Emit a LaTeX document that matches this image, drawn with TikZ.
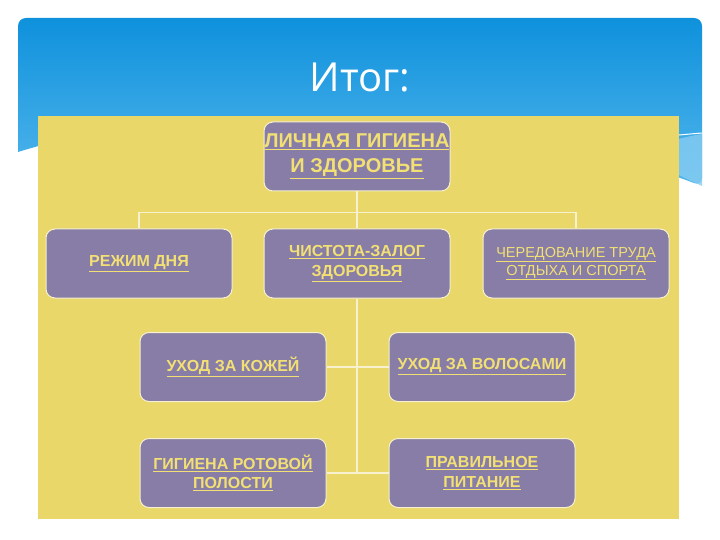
\documentclass[tikz,border=0pt]{standalone}
\usepackage{fontspec}
\setmainfont{Liberation Sans}
\newfontfamily\titlefont{Open Sans}
\usepackage{tikz}
\usepackage{xcolor}
\usetikzlibrary{shapes,arrows,positioning,calc}

\definecolor{skytop}{HTML}{0F91DC}
\definecolor{skybot}{HTML}{52B6EC}
\definecolor{sand}{HTML}{E9D76A}
\definecolor{lilac}{HTML}{877DA6}
\definecolor{lemon}{HTML}{F2E074}
\definecolor{cream}{HTML}{F7F1CF}

\tikzset{
    box/.style={draw=cream, line width=1pt, fill=lilac, rounded corners=9pt,
        minimum width=186pt, minimum height=69pt, inner sep=0pt,
        align=center, text=lemon, font=\bfseries\fontsize{16}{19.5}\selectfont},
    conn/.style={draw=cream, line width=1.6pt}
}
\newcommand{\ul}[1]{\underline{#1}}

\begin{document}
\begin{tikzpicture}[x=1pt, y=-1pt]
    \useasboundingbox (0,0) rectangle (720,540);
    \fill[white] (0,0) rectangle (720,540);

    % slide background
    \shade[top color=skytop, bottom color=skybot, rounded corners=8pt]
        (18,152) -- (18,18) -- (702,18) -- (702,186)
        [sharp corners] .. controls (500,110) and (200,95) .. (18,152) -- cycle;
    \fill[skybot!70!white, opacity=0.8] (640,150) .. controls (670,140) and (690,136) .. (702,134)
        -- (702,186) .. controls (685,178) and (665,170) .. (640,150) -- cycle;
    \draw[white, line width=1pt] (635,140) .. controls (665,136) and (690,134) .. (702,133);

    \node[text=white, font=\titlefont\fontsize{40}{44}\selectfont] (title) at (360,78) {Итог:};

    \fill[sand] (38,116) rectangle (679,519);

    \node[box, font=\bfseries\fontsize{20}{25}\selectfont] (lg) at (357,156.5)
        {\ul{ЛИЧНАЯ ГИГИЕНА}\\\ul{И ЗДОРОВЬЕ}};
    \node[box, below=37pt of lg] (chist) {\ul{ЧИСТОТА-ЗАЛОГ}\\\ul{ЗДОРОВЬЯ}};
    \node[box, left=31pt of chist] (rezh) {\ul{РЕЖИМ ДНЯ}};
    \node[box, right=32pt of chist, font=\fontsize{14.5}{18}\selectfont] (cher)
        {\ul{ЧЕРЕДОВАНИЕ ТРУДА}\\\ul{ОТДЫХА И СПОРТА}};

    \node[box] (koza) at (233,367) {\ul{УХОД ЗА КОЖЕЙ}};
    \node[box] (volos) at (482,367) {\ul{УХОД ЗА ВОЛОСАМИ}};
    \node[box, below=36pt of koza] (rot) {\ul{ГИГИЕНА РОТОВОЙ}\\\ul{ПОЛОСТИ}};
    \node[box, below=36pt of volos] (pit) {\ul{ПРАВИЛЬНОЕ}\\\ul{ПИТАНИЕ}};

    \draw[conn] (lg.south) -- (chist.north);
    \draw[conn] (rezh.north) -- ++(0,-16) -| (cher.north);
    \draw[conn] (chist.south) -- (chist.south |- pit.west);
    \draw[conn] (koza.east) -- (volos.west);
    \draw[conn] (rot.east) -- (pit.west);
\end{tikzpicture}
\end{document}
